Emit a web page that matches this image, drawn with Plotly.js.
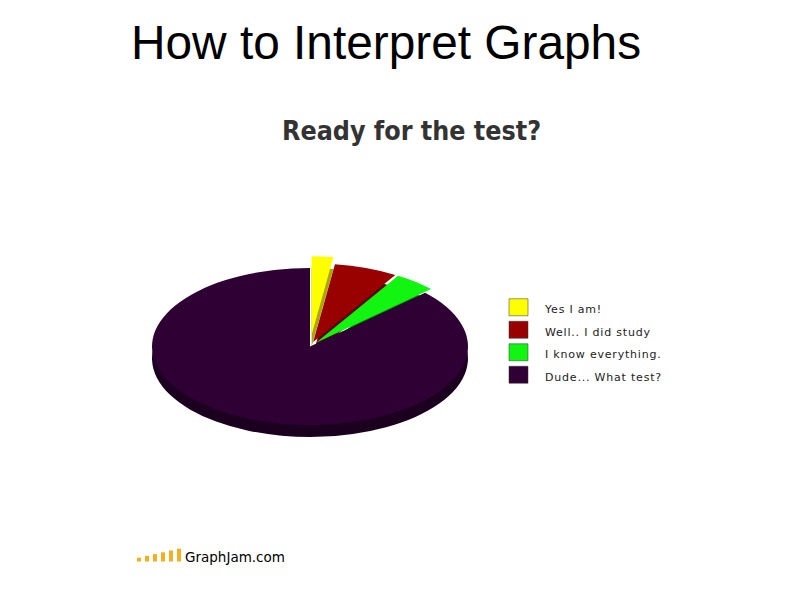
<!DOCTYPE html>
<html>
<head>
<meta charset="utf-8">
<script src="https://cdn.plot.ly/plotly-3.0.1.min.js"></script>
<style>
  html, body { margin: 0; padding: 0; background: #fff; }
  #chart { width: 800px; height: 600px; }
  /* flatten the pie into a tilted ellipse */
  .pielayer { transform: matrix(1, 0, 0, 0.497, 0, 197.4); }
  .legendtext { font-size: 11px !important; letter-spacing: 0.8px; }
</style>
</head>
<body>
<div id="chart"></div>
<script>
// ---- data ----
const labels = ['Yes I am!', 'Well.. I did study', 'I know everything.', 'Dude... What test?'];
const values = [2.2, 6.5, 4.3, 87];
const pulls = [0.15, 0.06, 0.06, 0];
const chartTitle = 'Ready for the test?';
const slideTitle = 'How to Interpret Graphs';
const logoText = 'GraphJam.com';
const logoBars = [1, 2, 3, 4, 5, 6];

// ---- styles ----
const topColors = ['#ffff00', '#990000', '#11f511', '#2f0033'];
const sideColors = ['#a8a800', '#5a0000', '#089008', '#1c001f'];

const shadowTrace = {
  type: 'pie', labels: labels, values: values, pull: pulls,
  sort: false, direction: 'clockwise', rotation: 0,
  marker: { colors: sideColors, line: { width: 0 } },
  textinfo: 'none', hoverinfo: 'skip', showlegend: false,
  domain: { x: [0.1604, 0.6146], y: [0.1572, 0.7628] }
};
const topTrace = {
  type: 'pie', labels: labels, values: values, pull: pulls,
  sort: false, direction: 'clockwise', rotation: 0,
  marker: { colors: topColors, line: { width: 0 } },
  textinfo: 'none', hoverinfo: 'label+percent',
  domain: { x: [0.1604, 0.6146], y: [0.1972, 0.8028] }
};

const shapes = logoBars.map(function (h, i) {
  const x0 = 137 + i * 8;
  const hPx = 2 + h * 1.8;
  return {
    type: 'rect', xref: 'paper', yref: 'paper',
    x0: x0 / 800, x1: (x0 + 4) / 800,
    y0: 1 - 561.5 / 600, y1: 1 - (561.5 - hPx) / 600,
    line: { width: 0 }, fillcolor: '#f0b020'
  };
});

const layout = {
  width: 800, height: 600,
  margin: { l: 0, r: 0, t: 0, b: 0 },
  paper_bgcolor: '#ffffff', plot_bgcolor: '#ffffff',
  showlegend: true,
  legend: {
    x: 492 / 800, xanchor: 'left', y: 1 - 291 / 600, yanchor: 'top',
    itemwidth: 43, bgcolor: 'rgba(0,0,0,0)', borderwidth: 0,
    font: { family: 'DejaVu Sans', size: 15, color: '#222222' },
    itemclick: false, itemdoubleclick: false
  },
  annotations: [
    { text: slideTitle, xref: 'paper', yref: 'paper', x: 128.5 / 800, y: 1 - 42.5 / 600,
      xanchor: 'left', yanchor: 'middle', showarrow: false,
      font: { family: 'Liberation Sans, Arial, sans-serif', size: 47.8, color: '#000000' } },
    { text: chartTitle, xref: 'paper', yref: 'paper', x: 411.5 / 800, y: 1 - 130.2 / 600,
      xanchor: 'center', yanchor: 'middle', showarrow: false,
      font: { family: 'DejaVu Sans Condensed, DejaVu Sans', size: 26.6, color: '#333333', weight: 'bold' } },
    { text: logoText, xref: 'paper', yref: 'paper', x: 183 / 800, y: 1 - 556.5 / 600,
      xanchor: 'left', yanchor: 'middle', showarrow: false,
      font: { family: 'DejaVu Sans', size: 13.5, color: '#000000' } }
  ],
  shapes: shapes
};

Plotly.newPlot('chart', [shadowTrace, topTrace], layout, { displayModeBar: false }).then(function () {
  document.querySelectorAll('.legendpie').forEach(function (p) {
    p.setAttribute('d', 'M9.5,8.5H-9.5V-8.5H9.5Z');
    p.style.stroke = '#333';
    p.style.strokeWidth = '0.5px';
  });
});
</script>
</body>
</html>
